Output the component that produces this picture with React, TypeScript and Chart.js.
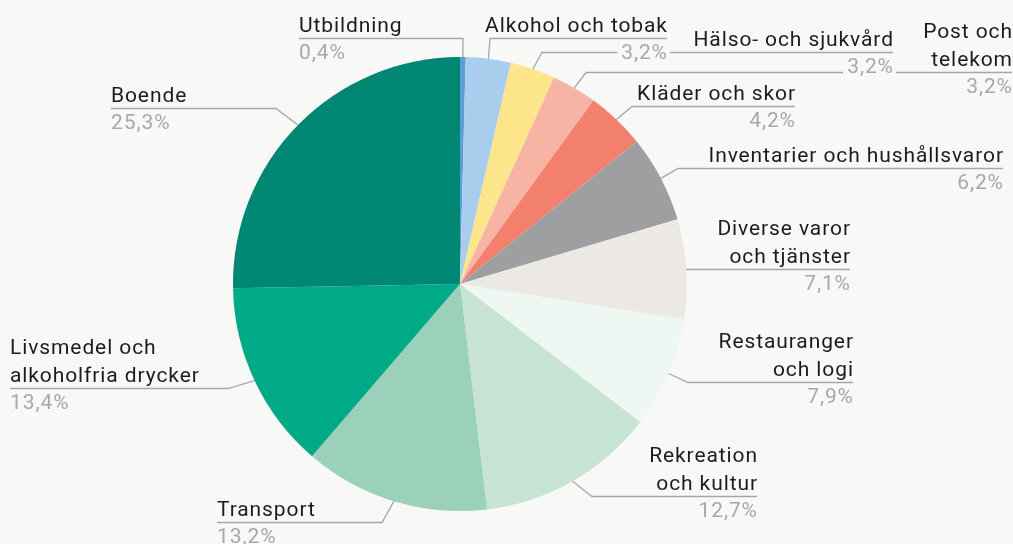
import React, { useEffect, useRef } from "react";
import { Chart, registerables } from "chart.js";

Chart.register(...registerables);

const categories: string[][] = [
  ["Utbildning"],
  ["Alkohol och tobak"],
  ["Hälso- och sjukvård"],
  ["Post och", "telekom"],
  ["Kläder och skor"],
  ["Inventarier och hushållsvaror"],
  ["Diverse varor", "och tjänster"],
  ["Restauranger", "och logi"],
  ["Rekreation", "och kultur"],
  ["Transport"],
  ["Livsmedel och", "alkoholfria drycker"],
  ["Boende"],
];

const shares: number[] = [0.4, 3.2, 3.2, 3.2, 4.2, 6.2, 7.1, 7.9, 12.7, 13.2, 13.4, 25.3];

const sliceColors: string[] = [
  "#5a9fd6",
  "#a9cdec",
  "#fde58c",
  "#f7b4a4",
  "#f2806d",
  "#9e9fa0",
  "#ece9e4",
  "#eff7f3",
  "#c6e3d3",
  "#9bd1ba",
  "#00aa86",
  "#008773",
];

// label layout: side, text edge x, underline y, elbow x
type LabelLayout = { side: "left" | "right"; textX: number; lineY: number; elbowX: number };
const labelLayout: LabelLayout[] = [
  { side: "left", textX: 299, lineY: 38, elbowX: 463 },
  { side: "right", textX: 667, lineY: 38, elbowX: 490 },
  { side: "right", textX: 893, lineY: 52, elbowX: 542 },
  { side: "right", textX: 1012, lineY: 72, elbowX: 586 },
  { side: "right", textX: 795, lineY: 106, elbowX: 632 },
  { side: "right", textX: 1003, lineY: 168, elbowX: 678 },
  { side: "right", textX: 850, lineY: 269, elbowX: 687 },
  { side: "right", textX: 853, lineY: 382, elbowX: 688 },
  { side: "right", textX: 757, lineY: 496, elbowX: 592 },
  { side: "left", textX: 217, lineY: 522, elbowX: 382 },
  { side: "left", textX: 10, lineY: 388, elbowX: 228 },
  { side: "left", textX: 111, lineY: 108, elbowX: 276 },
];

const BG = "#f8f8f6";
const FONT = "21px Roboto";
const SPACING = 0.9;
const LINE_H = 28;

const fmt = (v: number) => v.toFixed(1).replace(".", ",") + "%";

const labelPlugin = {
  id: "pieLabels",
  afterDraw(chart: any) {
    const ctx = chart.ctx as any;
    const meta = chart.getDatasetMeta(0);
    const arcs = meta.data as any[];
    ctx.save();
    // connectors and underlines
    ctx.strokeStyle = "#a6a6a6";
    ctx.lineWidth = 1.3;
    arcs.forEach((arc, i) => {
      const lay = labelLayout[i];
      const p = arc.getProps(["x", "y", "startAngle", "endAngle", "outerRadius"], true);
      const mid = (p.startAngle + p.endAngle) / 2;
      const sx = p.x + Math.cos(mid) * p.outerRadius;
      const sy = p.y + Math.sin(mid) * p.outerRadius;
      ctx.beginPath();
      ctx.moveTo(sx, sy);
      ctx.lineTo(lay.elbowX, lay.lineY + 0.5);
      ctx.lineTo(lay.textX, lay.lineY + 0.5);
      ctx.stroke();
    });
    // texts
    ctx.font = FONT;
    ctx.letterSpacing = SPACING + "px";
    ctx.textBaseline = "alphabetic";
    arcs.forEach((_arc, i) => {
      const lay = labelLayout[i];
      const lines = categories[i];
      const right = lay.side === "right";
      ctx.textAlign = right ? "right" : "left";
      const tx = right ? lay.textX + SPACING : lay.textX;
      ctx.fillStyle = "#1c1c1c";
      lines.forEach((ln, k) => {
        const by = lay.lineY - 6 - (lines.length - 1 - k) * LINE_H;
        ctx.fillText(ln, tx, by);
      });
      const pct = fmt(shares[i]);
      const w = ctx.measureText(pct).width;
      const bx = right ? lay.textX - w : lay.textX;
      ctx.fillStyle = BG;
      ctx.fillRect(bx - 3, lay.lineY + 5, w + 6, 18);
      ctx.fillStyle = "#a8a8a8";
      ctx.fillText(pct, tx, lay.lineY + 21);
    });
    ctx.restore();
  },
};

export default function App() {
  const ref = useRef<HTMLCanvasElement | null>(null);
  useEffect(() => {
    if (!ref.current) return;
    const chart = new Chart(ref.current, {
      type: "pie",
      data: {
        labels: categories.map((c) => c.join(" ")),
        datasets: [
          {
            data: shares,
            backgroundColor: sliceColors,
            borderWidth: 0,
          },
        ],
      },
      options: {
        responsive: false,
        animation: false,
        layout: { padding: { left: 233, right: 326, top: 57, bottom: 33 } },
        plugins: { legend: { display: false }, tooltip: { enabled: false } },
      },
      plugins: [labelPlugin],
    });
    return () => chart.destroy();
  }, []);
  return (
    <div style={{ position: "fixed", left: 0, top: 0, width: 1013, height: 544, background: BG }}>
      <canvas ref={ref} width={1013} height={544} style={{ display: "block" }} />
    </div>
  );
}
